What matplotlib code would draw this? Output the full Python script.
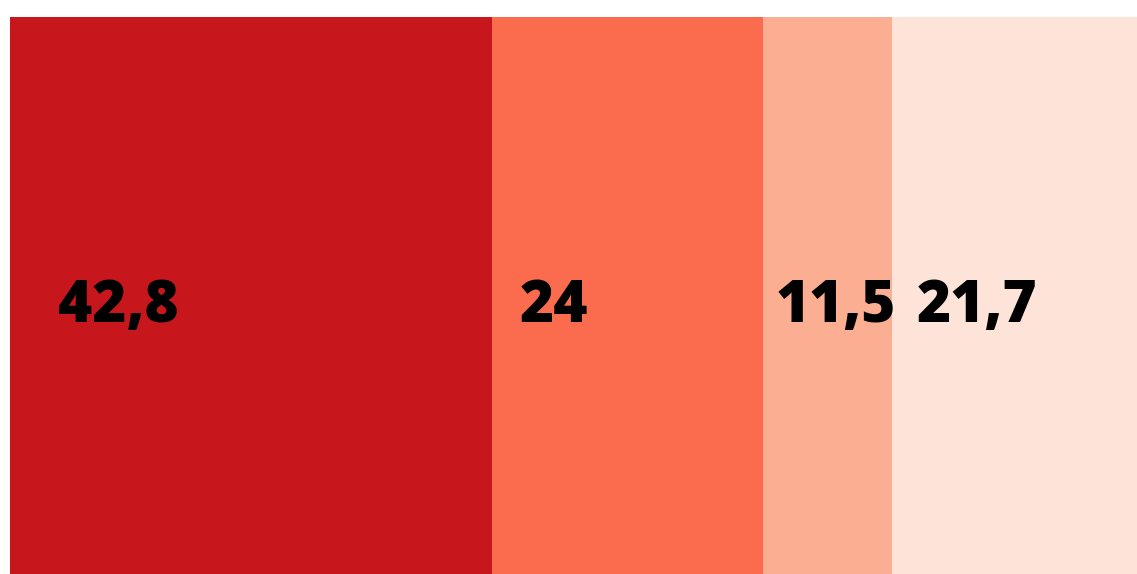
import matplotlib
matplotlib.use("Agg")
import matplotlib.pyplot as plt

# shares of one total, left to right
labels = ["42,8", "24", "11,5", "21,7"]
values = [42.8, 24.0, 11.5, 21.7]
colors = ["#c8171c", "#fb6c4e", "#fbae91", "#fee4d8"]

fig = plt.figure(figsize=(11.37, 5.74), dpi=100)
ax = fig.add_axes([10 / 1137, 0, 1127 / 1137, 557 / 574])

left = 0.0
for lab, val, col in zip(labels, values, colors):
    ax.barh(0, val, left=left, height=1.0, color=col, linewidth=0)
    # label sits about a tenth of the way into its segment
    ax.text(left + val * 0.1, -0.02, lab, ha="left", va="center",
            fontsize=42, fontweight="heavy", family="Open Sans", color="black")
    left += val

ax.set_xlim(0, sum(values))
ax.set_ylim(-0.5, 0.5)
ax.axis("off")

fig.savefig("out.png", dpi=100)
